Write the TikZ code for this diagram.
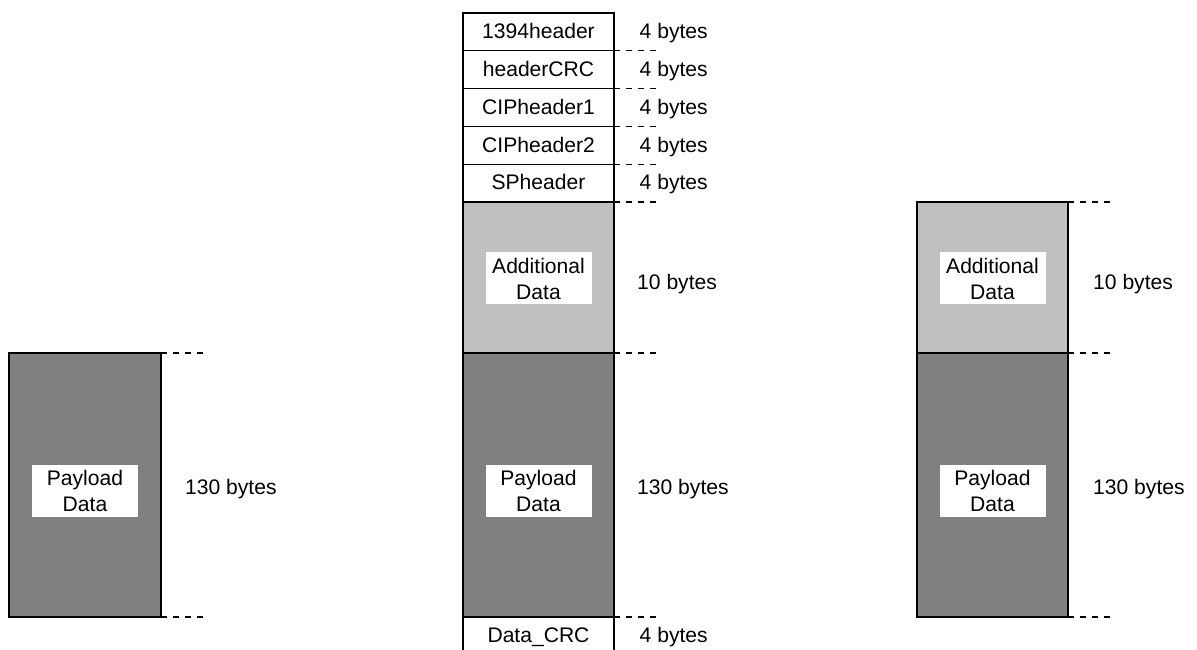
\documentclass[tikz,border=0pt]{standalone}
\usepackage{fontspec}
\setmainfont{Liberation Sans}
\usetikzlibrary{positioning}

\definecolor{addgray}{HTML}{C0C0C0}
\definecolor{paygray}{HTML}{808080}

\tikzset{
  field/.style={draw, line width=0.7pt},
  datalabel/.style={fill=white, align=center, minimum width=2.12cm, minimum height=1.04cm, inner sep=0pt},
  fieldname/.style={anchor=base},
  size/.style={anchor=base west},
  cut/.style={line width=0.7pt, dash pattern=on 3.4pt off 3.4pt},
}

\begin{document}
\begin{tikzpicture}[font=\fontsize{12}{14.8}\selectfont]

\useasboundingbox (0,0) rectangle (23.94,13);

% left: payload only
\draw[field, fill=paygray] (0.18,0.66) rectangle (3.22,5.94);
\node [datalabel] (plL) at (1.70,3.18) {Payload\\Data};
\node [size] (szL) at (3.58,3.10) {130 bytes};
\draw[cut] (3.22,5.94) -- (4.06,5.94);
\draw[cut] (3.22,0.66) -- (4.06,0.66);

% middle: headers
\draw[field] (9.26,8.96) rectangle (12.28,12.74);
\draw[field] (9.26,11.984) -- (12.28,11.984);
\draw[field] (9.26,11.228) -- (12.28,11.228);
\draw[field] (9.26,10.472) -- (12.28,10.472);
\draw[field] (9.26,9.716) -- (12.28,9.716);

\node [fieldname] (h1) at (10.77,12.224) {1394header};
\node [fieldname] (h2) at (10.77,11.468) {headerCRC};
\node [fieldname] (h3) at (10.77,10.712) {CIPheader1};
\node [fieldname] (h4) at (10.77,9.956) {CIPheader2};
\node [fieldname] (h5) at (10.77,9.200) {SPheader};

\node [size] (s1) at (12.67,12.224) {4 bytes};
\node [size] (s2) at (12.67,11.468) {4 bytes};
\node [size] (s3) at (12.67,10.712) {4 bytes};
\node [size] (s4) at (12.67,9.956) {4 bytes};
\node [size] (s5) at (12.67,9.200) {4 bytes};

\draw[cut] (12.28,11.984) -- (13.14,11.984);
\draw[cut] (12.28,11.228) -- (13.14,11.228);
\draw[cut] (12.28,10.472) -- (13.14,10.472);
\draw[cut] (12.28,9.716) -- (13.14,9.716);
\draw[cut] (12.28,8.96) -- (13.14,8.96);

% middle: data
\draw[field, fill=addgray] (9.26,5.94) rectangle (12.28,8.96);
\node [datalabel] (adM) at (10.77,7.43) {Additional\\Data};
\node [size] (szAM) at (12.62,7.20) {10 bytes};
\draw[cut] (12.28,5.94) -- (13.14,5.94);

\draw[field, fill=paygray] (9.26,0.66) rectangle (12.28,5.94);
\node [datalabel] (plM) at (10.77,3.18) {Payload\\Data};
\node [size] (szPM) at (12.62,3.10) {130 bytes};
\draw[cut] (12.28,0.66) -- (13.14,0.66);

% middle: crc
\draw[field] (9.26,0.66) -- (9.26,0);
\draw[field] (12.28,0.66) -- (12.28,0);
\node [fieldname] (crc) at (10.77,0.14) {Data\_CRC};
\node [size] (s6) at (12.67,0.14) {4 bytes};

% right: no headers
\draw[field, fill=addgray] (18.34,5.94) rectangle (21.36,8.96);
\node [datalabel] (adR) at (19.85,7.43) {Additional\\Data};
\node [size] (szAR) at (21.74,7.20) {10 bytes};
\draw[cut] (21.36,8.96) -- (22.20,8.96);
\draw[cut] (21.36,5.94) -- (22.20,5.94);

\draw[field, fill=paygray] (18.34,0.66) rectangle (21.36,5.94);
\node [datalabel] (plR) at (19.85,3.18) {Payload\\Data};
\node [size] (szPR) at (21.74,3.10) {130 bytes};
\draw[cut] (21.36,0.66) -- (22.20,0.66);

\end{tikzpicture}
\end{document}
